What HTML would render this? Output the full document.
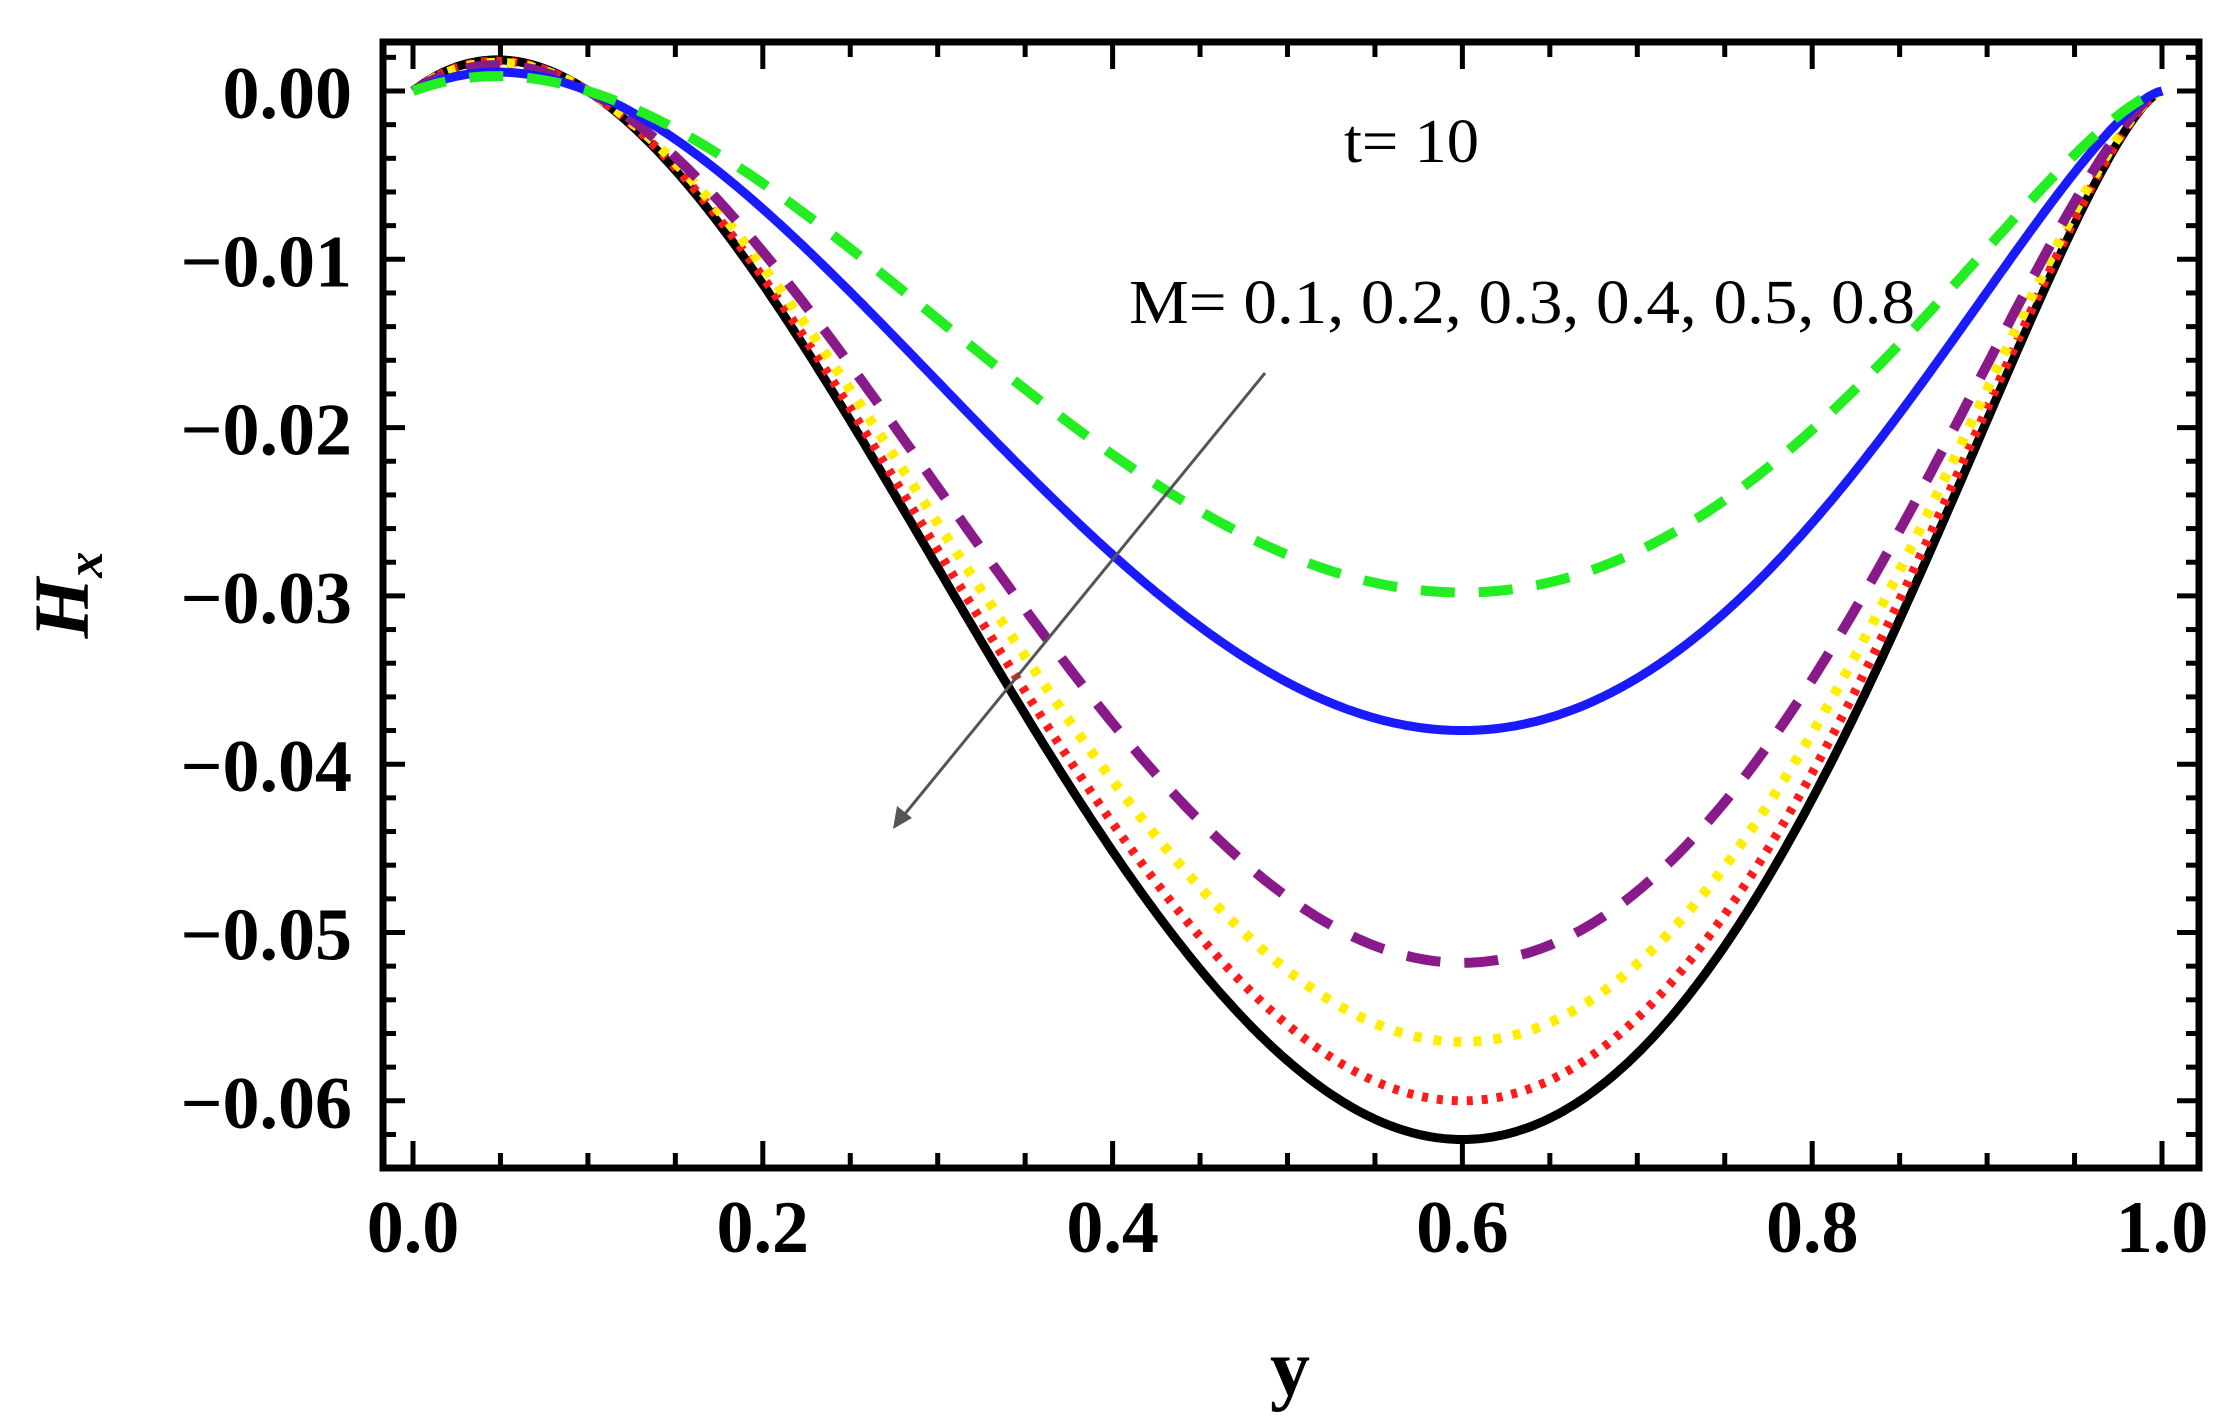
<!DOCTYPE html>
<html><head><meta charset="utf-8"><style>
html,body{margin:0;padding:0;background:#fff}
svg{display:block}
</style></head><body>
<svg id="s" width="2234" height="1426" viewBox="0 0 2234 1426" xmlns="http://www.w3.org/2000/svg">
<rect width="2234" height="1426" fill="#fff"/>
<g id="curves" fill="none"></g>
<rect x="383" y="42" width="1816" height="1126" fill="none" stroke="#000" stroke-width="7"/>
<g id="ticks" stroke="#000" stroke-width="5"></g>
<g id="labels" font-family="'Liberation Serif',serif" font-weight="bold" font-size="74" fill="#000"></g>
<text x="1290" y="1395" font-family="'Liberation Serif',serif" font-weight="bold" font-size="80" text-anchor="middle">y</text>
<text transform="translate(88,595) rotate(-90)" font-family="'Liberation Serif',serif" font-weight="bold" font-style="italic" font-size="78" text-anchor="middle">H<tspan font-size="52" dy="14">x</tspan></text>
<text x="1344" y="162" font-family="'Liberation Serif',serif" font-size="62" textLength="135" lengthAdjust="spacingAndGlyphs">t= 10</text>
<text x="1129" y="323" font-family="'Liberation Serif',serif" font-size="62" textLength="786" lengthAdjust="spacingAndGlyphs">M= 0.1, 0.2, 0.3, 0.4, 0.5, 0.8</text>
<line x1="1265" y1="373" x2="900" y2="820" stroke="#555" stroke-width="3"/>
<polygon points="893,829 897,806 912,818" fill="#555"/>
</svg>
<script>
var X=function(v){return 413+v*1749};
var Y=function(v){return 91-v*16830};
var q=function(y){return y*(y-0.1)*Math.pow(1-y,1.467)};
var q6=q(0.6);
var series=[
 [0.0298,'#22ee22','34 24',10],
 [0.0380,'#1a1aff','',9],
 [0.0518,'#8a1a8a','34 24',10],
 [0.0565,'#ffee00','8 12',10],
 [0.0600,'#ff1a1a','6 9',9],
 [0.0623,'#000','',9]];
var g=document.getElementById('curves'),ns='http://www.w3.org/2000/svg';
series.slice().reverse().forEach(function(s){
 var d='';
 for(var i=0;i<=400;i++){var y=i/400;var h=-s[0]*q(y)/q6;d+=(i?'L':'M')+X(y).toFixed(1)+','+Y(h).toFixed(1);}
 var p=document.createElementNS(ns,'path');p.setAttribute('d',d);p.setAttribute('stroke',s[1]);p.setAttribute('stroke-width',s[3]);
 if(s[2])p.setAttribute('stroke-dasharray',s[2]);g.appendChild(p);
});
var t=document.getElementById('ticks'),L=document.getElementById('labels');
function ln(a,b,c,d){var e=document.createElementNS(ns,'line');e.setAttribute('x1',a);e.setAttribute('y1',b);e.setAttribute('x2',c);e.setAttribute('y2',d);t.appendChild(e);}
function tx(x,y,s,anc){var e=document.createElementNS(ns,'text');e.setAttribute('x',x);e.setAttribute('y',y);e.setAttribute('text-anchor',anc);e.textContent=s;L.appendChild(e);}
for(var i=0;i<=20;i++){var x=X(i*0.05);var maj=i%4==0;var len=maj?27:15;
 ln(x,1168,x,1168-len);ln(x,42,x,42+len);
 if(maj){tx(x,1252,(i*0.05).toFixed(1),'middle');}}
for(var k=1;k>=-33;k--){var v=k*0.002;var y=Y(v);if(y<45||y>1165)continue;var maj=(k%5==0);var len=maj?22:13;
 ln(383,y,383+len,y);ln(2199,y,2199-len,y);
 if(maj){var s=(v<-1e-9?'\u2212':'')+Math.abs(v).toFixed(2);tx(352,y+27,s,'end');}}
</script>
</body></html>
